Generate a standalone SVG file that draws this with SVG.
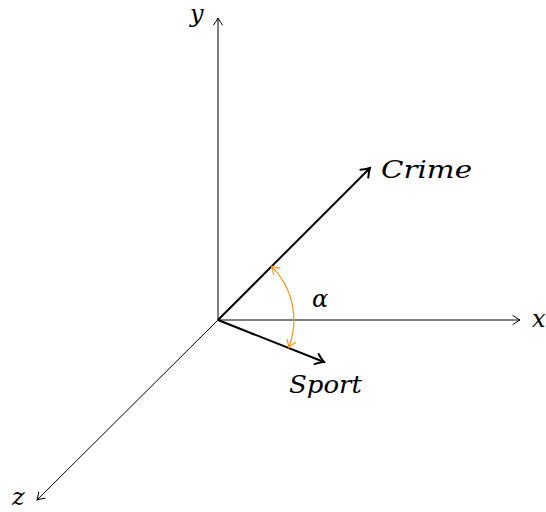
<svg xmlns="http://www.w3.org/2000/svg" width="546" height="512" viewBox="0 0 546 512">
<style>
.ax{stroke:#000;stroke-width:1;fill:none}
.vec{stroke:#000;stroke-width:2;fill:none}
.arc{stroke:#F7931E;stroke-width:1.2;fill:none}
.t{font-family:"DejaVu Serif",serif;font-style:italic;font-size:24px;fill:#000}
</style>
<defs>
<marker id="ta" markerUnits="userSpaceOnUse" viewBox="-10 -6 12 12" refX="0" refY="0" markerWidth="12" markerHeight="12" orient="auto">
<path d="M-7,-4.5 Q-2.5,-1.2 0,0 Q-2.5,1.2 -7,4.5" stroke="#000" stroke-width="1" fill="none" stroke-linecap="round"/>
</marker>
<marker id="tv" markerUnits="userSpaceOnUse" viewBox="-12 -7 14 14" refX="0" refY="0" markerWidth="14" markerHeight="14" orient="auto">
<path d="M-8,-5.5 Q-3,-1.4 0,0 Q-3,1.4 -8,5.5" stroke="#000" stroke-width="2" fill="none" stroke-linecap="round"/>
</marker>
<marker id="to" markerUnits="userSpaceOnUse" viewBox="-10 -6 12 12" refX="0" refY="0" markerWidth="12" markerHeight="12" orient="auto-start-reverse">
<path d="M-7,-4.5 Q-2.5,-1.2 0,0 Q-2.5,1.2 -7,4.5" stroke="#F7931E" stroke-width="1.2" fill="none" stroke-linecap="round"/>
</marker>
</defs>
<g id="connectors">
<line class="ax" x1="218" y1="320" x2="218" y2="18" marker-end="url(#ta)"/>
<line class="ax" x1="218" y1="320" x2="520" y2="320" marker-end="url(#ta)"/>
<line class="ax" x1="218" y1="320" x2="37" y2="500" marker-end="url(#ta)"/>
<line class="vec" x1="218" y1="320" x2="370" y2="168" marker-end="url(#tv)"/>
<line class="vec" x1="218" y1="320" x2="324" y2="362" marker-end="url(#tv)"/>
<path class="arc" d="M271.7,266.3 A76,76 0 0 1 288.8,347.5" marker-start="url(#to)" marker-end="url(#to)"/>
</g>
<g id="label-y"><text class="t" x="190" y="22">y</text></g>
<g id="label-x"><text class="t" x="532" y="327">x</text></g>
<g id="label-z"><text class="t" x="12" y="505">z</text></g>
<g id="label-crime"><text class="t" x="381" y="178" textLength="91" lengthAdjust="spacingAndGlyphs">Crime</text></g>
<g id="label-sport"><text class="t" x="289" y="393" textLength="73" lengthAdjust="spacingAndGlyphs">Sport</text></g>
<g id="label-alpha"><text class="t" x="312" y="307">α</text></g>
</svg>
